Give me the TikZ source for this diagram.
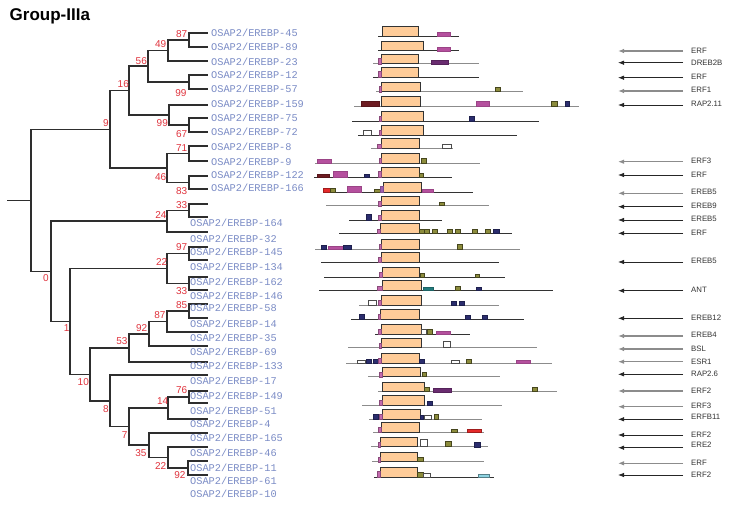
\documentclass[tikz,border=0pt]{standalone}
\usepackage{fontspec}
\setmainfont{Liberation Sans}
\newfontfamily\monof{Liberation Mono}
\usetikzlibrary{arrows.meta}
\definecolor{peach}{HTML}{FFCC99}
\definecolor{leafc}{HTML}{7B8CC6}
\definecolor{bsred}{HTML}{E0333D}
\definecolor{treec}{HTML}{2E2E2E}
\definecolor{pinkm}{HTML}{C46AAE}
\definecolor{magm}{HTML}{B5509E}
\definecolor{dpurp}{HTML}{6A2C70}
\definecolor{maroonm}{HTML}{6E1C22}
\definecolor{olivem}{HTML}{8C8C3C}
\definecolor{navym}{HTML}{2B2D6E}
\definecolor{tealm}{HTML}{237A7C}
\definecolor{redm}{HTML}{E52A2A}
\definecolor{cyanm}{HTML}{8ED4E2}
\definecolor{violetm}{HTML}{9D5FB0}
\tikzset{
  treeln/.style={draw=treec,line width=1.6pt},
  leaflab/.style={anchor=west,inner sep=0pt,text=leafc,font=\monof\fontsize{10.3}{12}\selectfont},
  bslab/.style={inner sep=0pt,text=bsred,font=\fontsize{10}{11}\selectfont},
  arrlab/.style={anchor=west,inner sep=0pt,text=black!80,font=\fontsize{7.8}{9}\selectfont},
  arrblk/.style={draw=black!85,line width=0.8pt,-{Latex[length=6pt,width=4.5pt]}},
  arrgry/.style={draw=black!45,line width=1.2pt,-{Latex[length=6pt,width=4.5pt]}},
  pdom/.style={fill=peach,draw=black!80,line width=0.9pt},
  bd/.style={draw=black!80,line width=0.7pt},
  bg/.style={draw=black!45,line width=0.8pt},
  pk/.style={fill=pinkm,draw=pinkm!70!black,line width=0.3pt},
  mg/.style={fill=magm,draw=magm!85!black,line width=0.3pt},
  dp/.style={fill=dpurp,draw=dpurp!80!black,line width=0.3pt},
  mr/.style={fill=maroonm,draw=maroonm!80!black,line width=0.3pt},
  ol/.style={fill=olivem,draw=olivem!50!black,line width=0.5pt},
  nv/.style={fill=navym,draw=navym!70!black,line width=0.3pt},
  wt/.style={fill=white,draw=black!70,line width=0.6pt},
  tl/.style={fill=tealm,draw=tealm!80!black,line width=0.3pt},
  rd/.style={fill=redm,draw=redm!70!black,line width=0.3pt},
  cy/.style={fill=cyanm,draw=cyanm!60!black,line width=0.5pt},
  vl/.style={fill=violetm,draw=violetm!80!black,line width=0.3pt},
}
\newcommand{\Mo}[4]{\filldraw[#1] (#2,0) rectangle (#3,-#4);}
\newcommand{\DR}[7]{\begin{scope}[shift={(0,#1)}]\draw[#2] (#3,0) -- (#4,0);\draw[pdom] (#5,0) rectangle (#6,-9.6);#7\end{scope}}
\newcommand{\Arw}[5]{\coordinate (#1s) at (683,#2);\coordinate (#1e) at (618,#2);\draw[#3] (#1s) -- (#1e);\node[arrlab] (#1) at (691,#4) {#5};}
\begin{document}
\begin{tikzpicture}[x=1pt,y=-1pt]
\useasboundingbox (0,0) rectangle (729,506);
\fill[white] (0,0) rectangle (729,506);
\node[anchor=base west,inner sep=0pt,font=\bfseries\fontsize{17}{19}\selectfont] (title) at (9.5,20.7) {Group-IIIa};
% ---- tree coordinates
\coordinate (r0) at (7,200.3);
\coordinate (root) at (31,200.3);
\coordinate (n9) at (110,129.3);
\coordinate (n16) at (129,90.6);
\coordinate (n56) at (148,66.25);
\coordinate (n49) at (168,50.5);
\coordinate (n87) at (189,40);
\coordinate (n99a) at (189,82);
\coordinate (n99b) at (169,115);
\coordinate (n67) at (189,125);
\coordinate (n46) at (167,168);
\coordinate (n71) at (189,153.5);
\coordinate (n83) at (189,182.5);
\coordinate (n0) at (51,271.3);
\coordinate (n24) at (167,221.25);
\coordinate (n33a) at (189,210.5);
\coordinate (n1) at (70,321.4);
\coordinate (n22a) at (167,268.5);
\coordinate (n97) at (189,253.5);
\coordinate (n33b) at (189,283.5);
\coordinate (n10) at (90,374.3);
\coordinate (n53) at (129,347.9);
\coordinate (n92a) at (149,333.75);
\coordinate (n87b) at (167,321.5);
\coordinate (n85) at (189,311);
\coordinate (n8) at (110,400.8);
\coordinate (n7) at (129,426.6);
\coordinate (n14) at (168,408);
\coordinate (n76) at (189,397);
\coordinate (n35) at (149,445.25);
\coordinate (n22b) at (168,457.5);
\coordinate (n92b) at (188,468);
% leaves
\coordinate (L45) at (208,33);
\coordinate (L89) at (208,47);
\coordinate (L23) at (208,61);
\coordinate (L12) at (208,75);
\coordinate (L57) at (208,89);
\coordinate (L159) at (208,105);
\coordinate (L75) at (208,118);
\coordinate (L72) at (208,132);
\coordinate (L8) at (208,146);
\coordinate (L9) at (208,161);
\coordinate (L122) at (208,176);
\coordinate (L166) at (208,189);
\coordinate (Le1) at (208,204);
\coordinate (Le2) at (208,217);
\coordinate (Le3) at (208,232);
\coordinate (Le4) at (208,247);
\coordinate (Le5) at (208,260);
\coordinate (Le6) at (208,277);
\coordinate (Le7) at (208,290);
\coordinate (Le9) at (208,304);
\coordinate (Le10) at (208,318);
\coordinate (Le11) at (208,332);
\coordinate (Le12) at (208,346);
\coordinate (Le13) at (208,362);
\coordinate (Le14) at (208,375);
\coordinate (Le15) at (208,391);
\coordinate (Le16) at (208,403);
\coordinate (Le17) at (208,419);
\coordinate (Le18) at (208,433);
\coordinate (Le19) at (208,447);
\coordinate (Le20) at (208,461);
\coordinate (Le21) at (208,475);
% ---- tree branches
\draw[treeln] (r0) -- (root);
\draw[treeln] (root) |- (n9);  \draw[treeln] (root) |- (n0);
\draw[treeln] (n9) |- (n16);   \draw[treeln] (n9) |- (n46);
\draw[treeln] (n16) |- (n56);  \draw[treeln] (n16) |- (n99b);
\draw[treeln] (n56) |- (n49);  \draw[treeln] (n56) |- (n99a);
\draw[treeln] (n49) |- (n87);  \draw[treeln] (n49) |- (L23);
\draw[treeln] (n87) |- (L45);  \draw[treeln] (n87) |- (L89);
\draw[treeln] (n99a) |- (L12); \draw[treeln] (n99a) |- (L57);
\draw[treeln] (n99b) |- (L159);\draw[treeln] (n99b) |- (n67);
\draw[treeln] (n67) |- (L75);  \draw[treeln] (n67) |- (L72);
\draw[treeln] (n46) |- (n71);  \draw[treeln] (n46) |- (n83);
\draw[treeln] (n71) |- (L8);   \draw[treeln] (n71) |- (L9);
\draw[treeln] (n83) |- (L122); \draw[treeln] (n83) |- (L166);
\draw[treeln] (n0) |- (n24);   \draw[treeln] (n0) |- (n1);
\draw[treeln] (n24) |- (n33a); \draw[treeln] (n24) |- (Le3);
\draw[treeln] (n33a) |- (Le1); \draw[treeln] (n33a) |- (Le2);
\draw[treeln] (n1) |- (n22a);  \draw[treeln] (n1) |- (n10);
\draw[treeln] (n22a) |- (n97); \draw[treeln] (n22a) |- (n33b);
\draw[treeln] (n97) |- (Le4);  \draw[treeln] (n97) |- (Le5);
\draw[treeln] (n33b) |- (Le6); \draw[treeln] (n33b) |- (Le7);
\draw[treeln] (n10) |- (n53);  \draw[treeln] (n10) |- (n8);
\draw[treeln] (n53) |- (n92a); \draw[treeln] (n53) |- (Le13);
\draw[treeln] (n92a) |- (n87b);\draw[treeln] (n92a) |- (Le12);
\draw[treeln] (n87b) |- (n85); \draw[treeln] (n87b) |- (Le11);
\draw[treeln] (n85) |- (Le9);  \draw[treeln] (n85) |- (Le10);
\draw[treeln] (n8) |- (Le14);  \draw[treeln] (n8) |- (n7);
\draw[treeln] (n7) |- (n14);   \draw[treeln] (n7) |- (n35);
\draw[treeln] (n14) |- (n76);  \draw[treeln] (n14) |- (Le17);
\draw[treeln] (n76) |- (Le15); \draw[treeln] (n76) |- (Le16);
\draw[treeln] (n35) |- (Le18); \draw[treeln] (n35) |- (n22b);
\draw[treeln] (n22b) |- (Le19);\draw[treeln] (n22b) |- (n92b);
\draw[treeln] (n92b) |- (Le20);\draw[treeln] (n92b) |- (Le21);
% ---- bootstrap values
\node[bslab] (b87a) at (181.7,33.7) {87};
\node[bslab] (b49) at (160.7,44) {49};
\node[bslab] (b56) at (141.3,60.7) {56};
\node[bslab] (b16) at (123.3,84.3) {16};
\node[bslab] (b99a) at (181,92.7) {99};
\node[bslab] (b9) at (106,123.3) {9};
\node[bslab] (b99b) at (162.3,123.3) {99};
\node[bslab] (b67) at (181.7,134.3) {67};
\node[bslab] (b71) at (181.7,147.7) {71};
\node[bslab] (b46) at (160.7,177.3) {46};
\node[bslab] (b83) at (181.7,191) {83};
\node[bslab] (b33a) at (181.7,205) {33};
\node[bslab] (b24) at (161,215) {24};
\node[bslab] (b0) at (46,278.3) {0};
\node[bslab] (b97) at (181.7,247.3) {97};
\node[bslab] (b22a) at (161.7,261.7) {22};
\node[bslab] (b33b) at (181.7,291) {33};
\node[bslab] (b85) at (181.7,305) {85};
\node[bslab] (b87b) at (160,315) {87};
\node[bslab] (b92a) at (141.7,328.3) {92};
\node[bslab] (b1) at (66.7,328.3) {1};
\node[bslab] (b53) at (122,340.7) {53};
\node[bslab] (b10) at (83.3,382) {10};
\node[bslab] (b76) at (181.7,390) {76};
\node[bslab] (b14) at (162.7,401) {14};
\node[bslab] (b8) at (106,408.7) {8};
\node[bslab] (b7) at (124.7,435) {7};
\node[bslab] (b35) at (141,453.3) {35};
\node[bslab] (b22b) at (160.7,465.7) {22};
\node[bslab] (b92b) at (180,475.3) {92};
% ---- leaf labels
\node[leaflab] (t45) at (211,32.5) {OSAP2/EREBP-45};
\node[leaflab] (t89) at (211,47.3) {OSAP2/EREBP-89};
\node[leaflab] (t23) at (211,61.7) {OSAP2/EREBP-23};
\node[leaflab] (t12) at (211,75.3) {OSAP2/EREBP-12};
\node[leaflab] (t57) at (211,89.3) {OSAP2/EREBP-57};
\node[leaflab] (t159) at (211,104) {OSAP2/EREBP-159};
\node[leaflab] (t75) at (211,118) {OSAP2/EREBP-75};
\node[leaflab] (t72) at (211,132.3) {OSAP2/EREBP-72};
\node[leaflab] (t8) at (211,146.7) {OSAP2/EREBP-8};
\node[leaflab] (t9) at (211,161.7) {OSAP2/EREBP-9};
\node[leaflab] (t122) at (211,175) {OSAP2/EREBP-122};
\node[leaflab] (t166) at (211,188) {OSAP2/EREBP-166};
\node[leaflab] (t164) at (190,223) {OSAP2/EREBP-164};
\node[leaflab] (t32) at (190,239) {OSAP2/EREBP-32};
\node[leaflab] (t145) at (190,252.3) {OSAP2/EREBP-145};
\node[leaflab] (t134) at (190,267.3) {OSAP2/EREBP-134};
\node[leaflab] (t162) at (190,281.7) {OSAP2/EREBP-162};
\node[leaflab] (t146) at (190,296) {OSAP2/EREBP-146};
\node[leaflab] (t58) at (190,308.3) {OSAP2/EREBP-58};
\node[leaflab] (t14) at (190,324.3) {OSAP2/EREBP-14};
\node[leaflab] (t35) at (190,338.3) {OSAP2/EREBP-35};
\node[leaflab] (t69) at (190,352.3) {OSAP2/EREBP-69};
\node[leaflab] (t133) at (190,366) {OSAP2/EREBP-133};
\node[leaflab] (t17) at (190,381) {OSAP2/EREBP-17};
\node[leaflab] (t149) at (190,396) {OSAP2/EREBP-149};
\node[leaflab] (t51) at (190,410.7) {OSAP2/EREBP-51};
\node[leaflab] (t4) at (190,424) {OSAP2/EREBP-4};
\node[leaflab] (t165) at (190,437.7) {OSAP2/EREBP-165};
\node[leaflab] (t46) at (190,452.7) {OSAP2/EREBP-46};
\node[leaflab] (t11) at (190,468) {OSAP2/EREBP-11};
\node[leaflab] (t61) at (190,481) {OSAP2/EREBP-61};
\node[leaflab] (t10) at (190,494.3) {OSAP2/EREBP-10};
% ---- domain rows
\DR{36}{bd}{378}{459}{382}{418}{\Mo{mg}{437}{450}{3.7}}
\DR{50.7}{bd}{378}{459}{381}{423}{\Mo{mg}{437}{450}{4}}
\DR{63.7}{bg}{373}{479}{381}{418}{\Mo{pk}{378.5}{381}{6}\Mo{dp}{431}{448}{3.5}}
\DR{77.3}{bd}{373}{479}{381}{418}{\Mo{pk}{378.5}{381}{6}}
\DR{91.7}{bg}{376}{523}{381}{420}{\Mo{pk}{379}{381}{6}\Mo{ol}{495.3}{500.7}{4.5}}
\DR{106}{bg}{354}{579}{381}{420}{\Mo{mr}{361}{379}{4.5}\Mo{mg}{476}{489}{5}\Mo{ol}{551}{557}{4.5}\Mo{nv}{565}{569.5}{4.5}}
\DR{121}{bd}{352}{539}{381}{423}{\Mo{pk}{379}{381}{5}\Mo{nv}{469}{474.5}{4.5}}
\DR{135}{bd}{358}{517}{381}{423}{\Mo{wt}{363.5}{371}{4.5}\Mo{pk}{379}{381}{5}}
\DR{148}{bg}{371}{453}{381}{419}{\Mo{pk}{377.5}{381}{4}\Mo{wt}{442}{451}{4}}
\DR{163.3}{bg}{315}{480}{381.5}{419.5}{\Mo{mg}{317.5}{331}{4}\Mo{pk}{379}{381.5}{5}\Mo{ol}{421}{426}{5.5}}
\DR{177.3}{bd}{314}{452}{381}{419}{\Mo{mr}{317.5}{329}{3}\Mo{mg}{333.5}{347}{6.5}\Mo{nv}{364}{369}{3}\Mo{pk}{378.5}{381}{6}\Mo{ol}{419.3}{423.3}{4}}
\DR{192.3}{bd}{323}{473}{383.3}{421.7}{\Mo{rd}{322.7}{330}{4}\Mo{ol}{330}{335.7}{4}\Mo{mg}{347.3}{361}{6.5}\Mo{ol}{374.7}{380}{3.5}\Mo{vl}{380}{383.3}{6}\Mo{mg}{421.7}{433.3}{3.3}}
\DR{205.7}{bg}{326}{489}{381}{419}{\Mo{pk}{378.5}{381}{5}\Mo{ol}{439}{444}{3.5}}
\DR{220}{bd}{349}{442}{381}{419}{\Mo{nv}{365.7}{371}{5.5}\Mo{pk}{378.5}{381}{5}}
\DR{233.3}{bd}{339}{512}{380}{419.3}{\Mo{pk}{377.5}{380}{4}\Mo{ol}{419.3}{424.3}{3.7}\Mo{ol}{424.3}{429}{3.7}\Mo{ol}{432.3}{437}{3.7}\Mo{ol}{447.7}{452.3}{3.7}\Mo{ol}{455}{460}{3.7}\Mo{ol}{472.7}{477.3}{3.7}\Mo{ol}{485.3}{490}{3.7}\Mo{nv}{493.3}{499.3}{3.7}}
\DR{249}{bg}{315}{520}{381}{419}{\Mo{nv}{321}{326}{4}\Mo{mg}{328.3}{342.7}{3.3}\Mo{nv}{342.7}{350.7}{4}\Mo{pk}{379}{381}{5}\Mo{ol}{457.7}{462.3}{5}}
\DR{262.3}{bd}{321}{499}{381}{419}{\Mo{pk}{378.5}{381}{5}}
\DR{277.3}{bd}{324}{505}{382.3}{419.3}{\Mo{pk}{379.3}{382.3}{5}\Mo{ol}{420}{424.3}{4}\Mo{ol}{475}{479}{3.5}}
\DR{290}{bd}{319}{553}{382.3}{421}{\Mo{pk}{377.3}{382.3}{4}\Mo{tl}{423.3}{433.3}{2.7}\Mo{ol}{455.7}{460.3}{4}\Mo{nv}{475.7}{480.7}{3.3}}
\DR{305}{bg}{359}{499}{381}{421}{\Mo{wt}{368}{376}{5}\Mo{pk}{378.5}{381}{5}\Mo{nv}{450.7}{455.7}{4}\Mo{nv}{459.3}{464.3}{4}}
\DR{319.3}{bd}{351}{524}{380}{419.3}{\Mo{nv}{359}{364.3}{5}\Mo{pk}{378}{380}{5}\Mo{nv}{465}{470}{4.5}\Mo{nv}{481.7}{486.7}{4.5}}
\DR{334}{bd}{375}{470}{381}{421.7}{\Mo{pk}{378.5}{381}{5}\Mo{wt}{421.7}{426}{5}\Mo{ol}{427.7}{432.7}{5}\Mo{mg}{436}{450}{3}}
\DR{347.7}{bg}{348}{537}{381}{421.7}{\Mo{pk}{379}{381}{5}\Mo{wt}{443.3}{450.7}{6}}
\DR{363.3}{bg}{346}{552}{381}{419}{\Mo{wt}{357.3}{365.7}{3.3}\Mo{nv}{365.7}{371}{4.3}\Mo{nv}{373.3}{378.3}{4.3}\Mo{pk}{378.3}{381}{5}\Mo{nv}{419}{424.3}{4.3}\Mo{wt}{451}{459.3}{3.3}\Mo{ol}{466}{471.7}{4.3}\Mo{mg}{516}{530}{3.3}}
\DR{376.7}{bg}{368}{500}{382.3}{420.7}{\Mo{pk}{379}{382.3}{4.5}\Mo{ol}{422.7}{426.7}{4.3}}
\DR{391.7}{bg}{378}{557}{382.3}{424.3}{\Mo{ol}{424.3}{429.3}{4.3}\Mo{dp}{433.3}{450.7}{3.3}\Mo{ol}{532.3}{537.7}{4.3}}
\DR{405}{bg}{362}{502}{382.3}{424.3}{\Mo{pk}{379}{382.3}{4.5}\Mo{nv}{427.3}{432.3}{4}}
\DR{419}{bg}{369}{482}{382.3}{420}{\Mo{nv}{372.7}{377.7}{4.7}\Mo{pk}{379}{382.3}{5}\Mo{nv}{420}{423.3}{4}\Mo{wt}{424}{431.7}{4}\Mo{ol}{434}{438.3}{4.7}}
\DR{432.3}{bg}{373}{484}{381}{419.3}{\Mo{pk}{378.3}{381}{5}\Mo{ol}{451}{457.3}{3.3}\Mo{rd}{466.7}{480.7}{3.3}}
\DR{446.7}{bg}{371}{488}{380}{417.7}{\Mo{pk}{378.3}{380}{5}\Mo{wt}{420}{427.7}{7}\Mo{ol}{445.3}{451.7}{5.5}\Mo{nv}{474}{480}{5}}
\DR{461.7}{bg}{372}{484}{380}{417.7}{\Mo{pk}{378.3}{380}{4.5}\Mo{ol}{417.7}{423.3}{4.5}}
\DR{477.3}{bd}{374}{494}{380}{417.7}{\Mo{pk}{377.3}{380}{6.5}\Mo{ol}{417.7}{423.3}{5}\Mo{wt}{423.3}{430.7}{4}\Mo{cy}{478.3}{489}{3}}
% ---- arrows
\Arw{a1}{51}{arrgry}{51}{ERF}
\Arw{a2}{62.7}{arrblk}{63}{DREB2B}
\Arw{a3}{77.7}{arrblk}{76.7}{ERF}
\Arw{a4}{91}{arrgry}{90}{ERF1}
\Arw{a5}{105}{arrblk}{104}{RAP2.11}
\Arw{a6}{161.7}{arrgry}{161}{ERF3}
\Arw{a7}{175}{arrblk}{174.5}{ERF}
\Arw{a8}{193.3}{arrgry}{192}{EREB5}
\Arw{a9}{206.7}{arrblk}{206}{EREB9}
\Arw{a10}{220}{arrblk}{219}{EREB5}
\Arw{a11}{233.3}{arrblk}{233}{ERF}
\Arw{a12}{262}{arrblk}{261}{EREB5}
\Arw{a13}{290.7}{arrblk}{290}{ANT}
\Arw{a14}{318.3}{arrblk}{318}{EREB12}
\Arw{a15}{336}{arrgry}{335}{EREB4}
\Arw{a16}{349}{arrgry}{349}{BSL}
\Arw{a17}{361.7}{arrgry}{361.5}{ESR1}
\Arw{a18}{374.3}{arrblk}{374}{RAP2.6}
\Arw{a19}{391}{arrgry}{391}{ERF2}
\Arw{a20}{406.7}{arrgry}{406}{ERF3}
\Arw{a21}{419.3}{arrblk}{416.5}{ERFB11}
\Arw{a22}{435}{arrblk}{434.5}{ERF2}
\Arw{a23}{447.7}{arrblk}{445}{ERE2}
\Arw{a24}{463.3}{arrgry}{462.5}{ERF}
\Arw{a25}{475}{arrblk}{475}{ERF2}
\end{tikzpicture}
\end{document}
